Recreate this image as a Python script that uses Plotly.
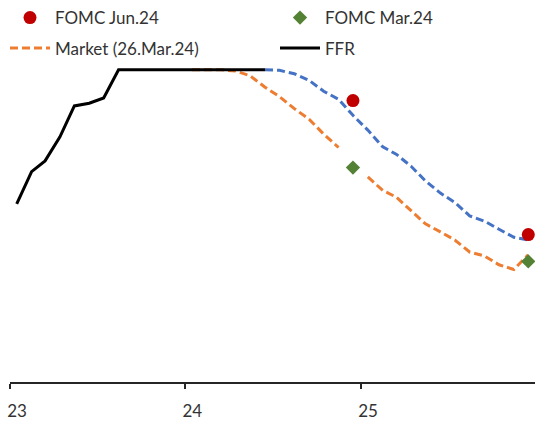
import plotly.graph_objects as go

# Effective fed funds rate, monthly (mid-month), %
ffr_dates = [f"{y}-{m:02d}-15" for y, m in
             [(2023, i) for i in range(1, 13)] + [(2024, i) for i in range(1, 7)]]
ffr_values = [4.33, 4.57, 4.65, 4.83, 5.06, 5.08, 5.12, 5.33, 5.33, 5.33, 5.33, 5.33,
              5.33, 5.33, 5.33, 5.33, 5.33, 5.33]

# Market-implied path as of 26 Mar 2024
mkt_mar_dates = [f"{y}-{m:02d}-15" for y in (2024, 2025) for m in range(1, 13)]
mkt_mar_values = [5.33, 5.33, 5.33, 5.32, 5.285, 5.20, 5.13, 5.04, 4.96, 4.85, 4.75, None,
                  4.53, 4.43, 4.38, 4.28, 4.18, 4.12, 4.06, 3.97, 3.94, 3.875, 3.84, 3.95]

# Market-implied path, later pricing
mkt_jun_dates = [f"{y}-{m:02d}-15" for y, m in
                 [(2024, i) for i in range(6, 13)] + [(2025, i) for i in range(1, 13)]]
mkt_jun_values = [5.33, 5.326, 5.30, 5.25, 5.17, 5.11, 4.99,
                  4.88, 4.755, 4.70, 4.61, 4.50, 4.41, 4.34, 4.24, 4.20, 4.14, 4.08, 4.06]

# FOMC median dot-plot projections (end of year)
dots_dates = ["2024-12-15", "2025-12-15"]
fomc_jun24 = [5.1, 4.1]
fomc_mar24 = [4.6, 3.9]

tick_vals = ["2023-01-01", "2024-01-01", "2025-01-01"]
tick_text = ["23", "24", "25"]

FONT = "Lato"
TXT = "#333333"
W, H = 535, 423
ML, MB = 10, 41
PLOT_W, PLOT_H = W - ML, H - MB

fig = go.Figure()

fig.add_trace(go.Scatter(
    x=mkt_mar_dates, y=mkt_mar_values, mode="lines", name="Market (26.Mar.24)",
    line=dict(color="#ED7D31", width=3, dash="8px,4px"), legend="legend3",
))
fig.add_trace(go.Scatter(
    x=mkt_jun_dates, y=mkt_jun_values, mode="lines", name="Market (Jun.24)",
    line=dict(color="#4472C4", width=3, dash="8px,4px"), showlegend=False,
))
fig.add_trace(go.Scatter(
    x=ffr_dates, y=ffr_values, mode="lines", name="FFR",
    line=dict(color="black", width=3), legend="legend4",
))
fig.add_trace(go.Scatter(
    x=dots_dates, y=fomc_jun24, mode="markers", name="FOMC Jun.24",
    marker=dict(color="#C00000", size=13, symbol="circle"), cliponaxis=False,
    legend="legend",
))
fig.add_trace(go.Scatter(
    x=dots_dates, y=fomc_mar24, mode="markers", name="FOMC Mar.24",
    marker=dict(color="#548235", size=11, symbol="diamond"), cliponaxis=False,
    legend="legend2",
))

def leg(x_px, y_px):
    # legend position given in pixels from the top-left of the figure
    return dict(
        xref="paper", yref="paper",
        x=(x_px - ML) / PLOT_W, y=1 - y_px / PLOT_H,
        xanchor="left", yanchor="middle", orientation="h", itemwidth=40,
        bgcolor="rgba(0,0,0,0)", borderwidth=0,
        font=dict(family=FONT, size=17, color=TXT),
    )

fig.update_layout(
    width=W, height=H,
    margin=dict(l=ML, r=0, t=0, b=MB),
    paper_bgcolor="white", plot_bgcolor="white",
    showlegend=True,
    legend=leg(5, 18), legend2=leg(275, 18),
    legend3=leg(5, 48.5), legend4=leg(275, 48.5),
    xaxis=dict(
        type="date", range=["2023-01-01", "2025-12-29"],
        tickmode="array", tickvals=tick_vals, ticktext=tick_text,
        showgrid=False, zeroline=False,
        showline=True, linecolor="#262626", linewidth=1.5,
        ticks="outside", ticklen=5, tickwidth=1.5, tickcolor="#262626",
        ticklabelshift=7, ticklabelstandoff=8,
        tickfont=dict(family=FONT, size=17, color=TXT),
    ),
    yaxis=dict(
        range=[3.0, 3.0 + PLOT_H / 134], visible=False,
        showgrid=False, zeroline=False, fixedrange=True,
    ),
)

fig.write_html("out.html")
